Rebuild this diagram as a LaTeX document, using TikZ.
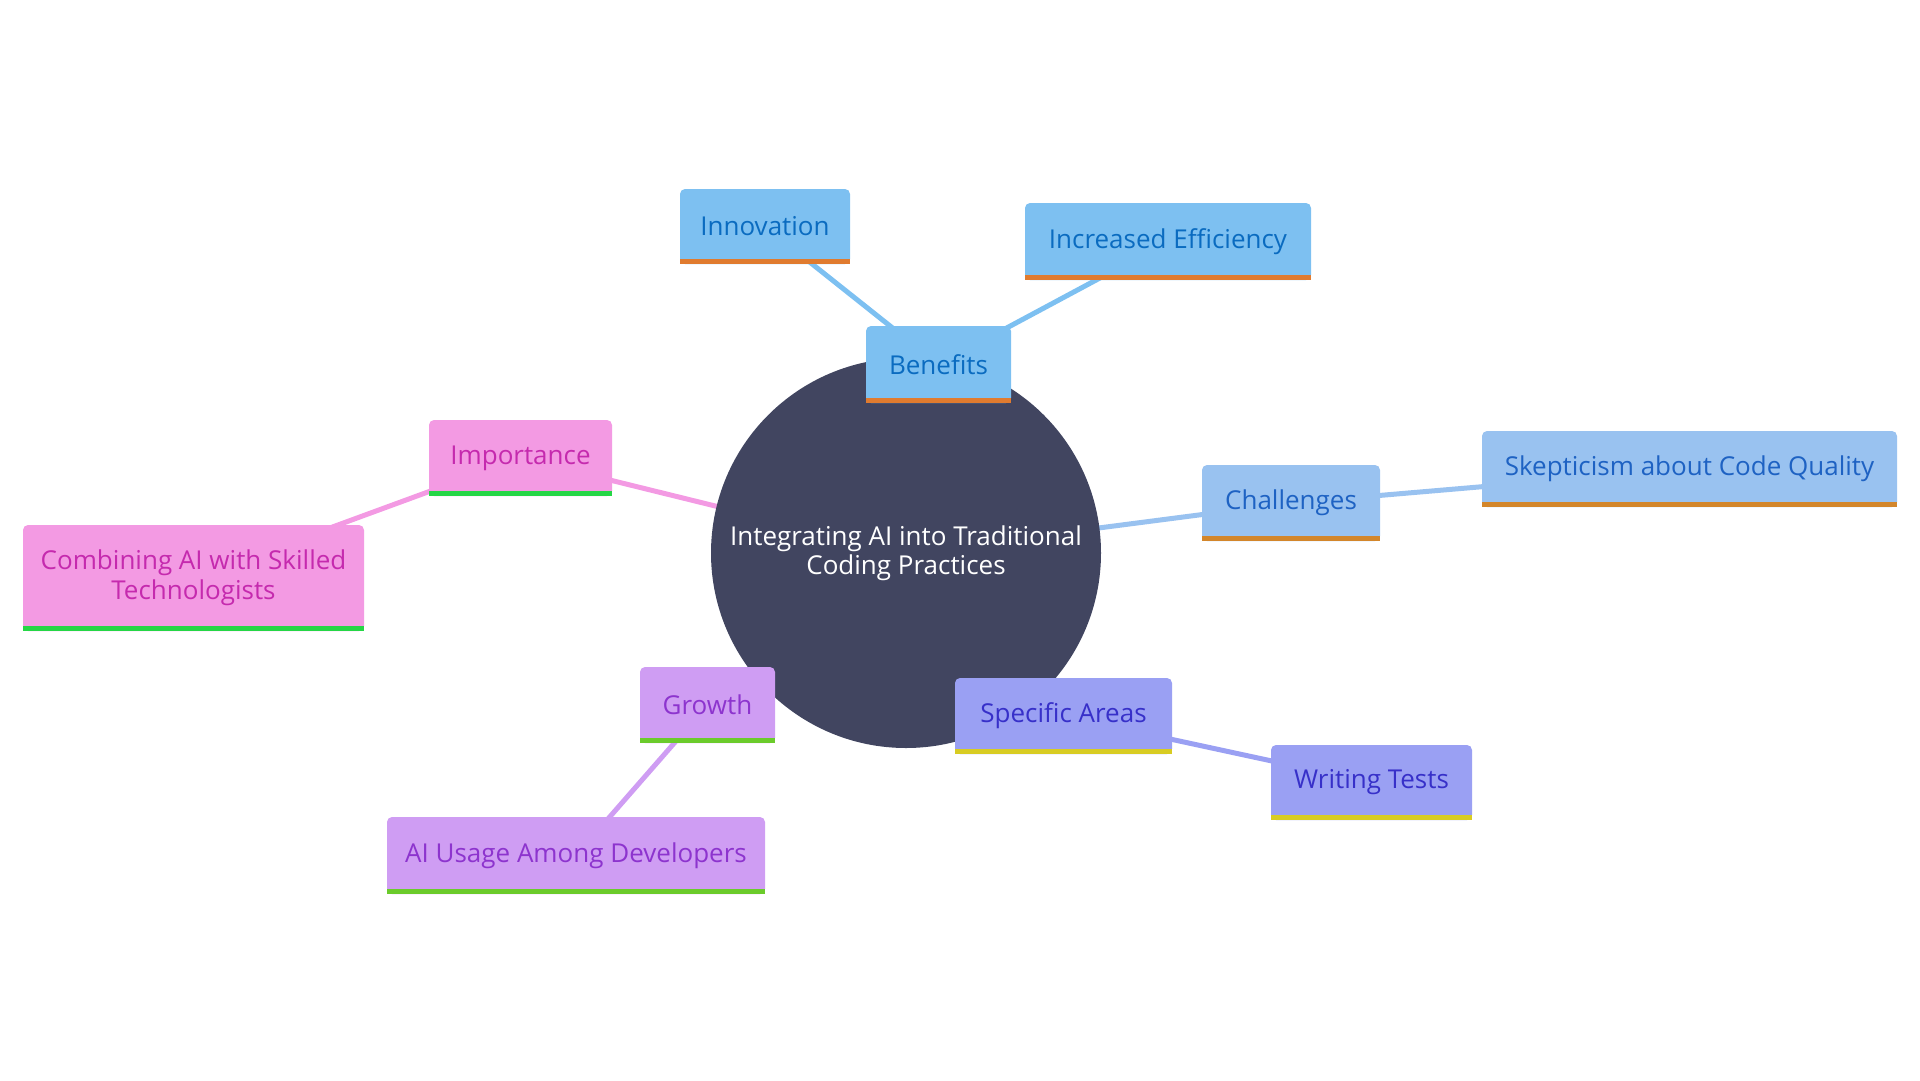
\documentclass[tikz,border=0pt]{standalone}
\usepackage{fontspec}
\setmainfont{Open Sans}
\usetikzlibrary{backgrounds}
\definecolor{bfill}{HTML}{7DC0F1}\definecolor{btext}{HTML}{0A6BC0}\definecolor{bbar}{HTML}{E07B2F}
\definecolor{cfill}{HTML}{99C2F0}\definecolor{ctext}{HTML}{1E62C3}\definecolor{cbar}{HTML}{D3862B}
\definecolor{sfill}{HTML}{9AA0F3}\definecolor{stext}{HTML}{3730C9}\definecolor{sbar}{HTML}{D8CC22}
\definecolor{gfill}{HTML}{CF9DF3}\definecolor{gtext}{HTML}{8D34CE}\definecolor{gbar}{HTML}{6BCB2B}
\definecolor{ifill}{HTML}{F39AE3}\definecolor{itext}{HTML}{C52AAE}\definecolor{ibar}{HTML}{25D646}
\definecolor{core}{HTML}{414560}
\tikzset{
  box/.style={rectangle, rounded corners=5pt, inner sep=0pt, align=center,
    font=\fontsize{26}{30}\selectfont},
  bbox/.style={box, fill=bfill, text=btext},
  cbox/.style={box, fill=cfill, text=ctext},
  sbox/.style={box, fill=sfill, text=stext},
  gbox/.style={box, fill=gfill, text=gtext},
  ibox/.style={box, fill=ifill, text=itext},
  link/.style={line width=5pt},
}
\newcommand{\barunder}[2]{\fill[#2] (#1.south west) rectangle ([yshift=5pt]#1.south east);}
\begin{document}
\begin{tikzpicture}[x=1pt,y=-1pt]
\useasboundingbox (0,0) rectangle (1920,1080);
\node[circle, fill=core, minimum size=390pt, inner sep=0pt, align=center, text=white,
  font=\fontsize{26}{29}\selectfont] (root) at (906,553) {Integrating AI into Traditional\\Coding Practices};

\node[bbox, minimum width=145pt, minimum height=77pt] (ben) at (938.5,364.5) {Benefits};
\node[bbox, minimum width=170pt, minimum height=75pt] (inn) at (765,226.5) {Innovation};
\node[bbox, minimum width=286pt, minimum height=77pt] (eff) at (1168,241.5) {Increased Efficiency};
\node[cbox, minimum width=178pt, minimum height=76pt] (cha) at (1291,503) {Challenges};
\node[cbox, minimum width=415pt, minimum height=76pt] (ske) at (1689.5,469) {Skepticism about Code Quality};
\node[sbox, minimum width=217pt, minimum height=76pt] (spe) at (1063.5,716) {Specific Areas};
\node[sbox, minimum width=201pt, minimum height=75pt] (wri) at (1371.5,782.5) {Writing Tests};
\node[gbox, minimum width=135pt, minimum height=76pt] (gro) at (707.5,705) {Growth};
\node[gbox, minimum width=378pt, minimum height=77pt] (aiu) at (576,855.5) {AI Usage Among Developers};
\node[ibox, minimum width=183pt, minimum height=76pt] (imp) at (520.5,458) {Importance};
\node[ibox, minimum width=341pt, minimum height=106pt] (com) at (193.5,578) {Combining AI with Skilled\\Technologists};

\barunder{ben}{bbar}\barunder{inn}{bbar}\barunder{eff}{bbar}
\barunder{cha}{cbar}\barunder{ske}{cbar}
\barunder{spe}{sbar}\barunder{wri}{sbar}
\barunder{gro}{gbar}\barunder{aiu}{gbar}
\barunder{imp}{ibar}\barunder{com}{ibar}

\begin{pgfonlayer}{background}
\draw[link, bfill] (inn.center) -- (ben.center);
\draw[link, bfill] (eff.center) -- (ben.center);
\draw[link, cfill] (root.center) -- (cha.center);
\draw[link, cfill] (cha.center) -- (ske.center);
\draw[link, sfill] (spe.center) -- (wri.center);
\draw[link, gfill] (gro.center) -- (aiu.center);
\draw[link, ifill] (root.center) -- (imp.center);
\draw[link, ifill] (imp.center) -- (com.center);
\end{pgfonlayer}
\end{tikzpicture}
\end{document}
